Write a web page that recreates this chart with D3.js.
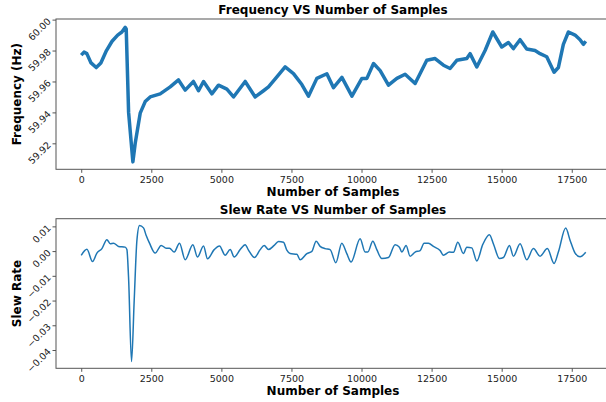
<!DOCTYPE html>
<html>
<head>
<meta charset="utf-8">
<script src="https://cdn.jsdelivr.net/npm/d3@7"></script>
<style>
  body { margin: 0; background: #fff; }
  svg text { font-family: "DejaVu Sans", sans-serif; }
</style>
</head>
<body>
<div class="mainCont"></div>
<script>
// frequency trace (sample index, Hz)
var freqSamples = [0, 100, 200, 350, 535, 700, 900, 1100, 1300, 1450, 1570, 1605, 1690, 1843, 1926,
    2104, 2282, 2460, 2817, 3174, 3470, 3709, 4004, 4184, 4363, 4660, 4897, 5196, 5433, 5849,
    6206, 6503, 6681, 6980, 7275, 7572, 7871, 8107, 8406, 8763, 9000, 9300, 9657, 10013, 10191,
    10428, 10665, 10961, 11260, 11555, 11912, 12328, 12625, 12922, 13160, 13398, 13755, 13873,
    14112, 14408, 14682, 15003, 15241, 15420, 15656, 15894, 16190, 16369, 16607, 16869, 17022,
    17200, 17380, 17618, 17796, 17914, 17999];
var freqValues = [59.977, 59.979, 59.978, 59.972, 59.969, 59.972, 59.980, 59.986, 59.990, 59.992,
    59.995, 59.994, 59.940, 59.908, 59.920, 59.9395, 59.947, 59.950, 59.952, 59.9565, 59.961,
    59.9544, 59.960, 59.954, 59.960, 59.952, 59.9576, 59.955, 59.950, 59.960, 59.950, 59.954,
    59.9565, 59.963, 59.9694, 59.9651, 59.958, 59.9505, 59.962, 59.965, 59.956, 59.9626, 59.9505,
    59.962, 59.962, 59.9716, 59.967, 59.9576, 59.962, 59.9647, 59.9587, 59.9737, 59.9748, 59.9705,
    59.9684, 59.9737, 59.9748, 59.978, 59.9694, 59.980, 59.992, 59.9823, 59.9852, 59.9813, 59.987,
    59.981, 59.980, 59.978, 59.976, 59.966, 59.969, 59.984, 59.992, 59.990, 59.987, 59.984, 59.986];

// slew rate trace
var slewSamples = [0, 203, 404, 559, 738, 916, 1034, 1153, 1331, 1569, 1629, 1688, 1795, 1890,
    1986, 2079, 2222, 2318, 2436, 2639, 2853, 3031, 3150, 3317, 3506, 3709, 3983, 4148, 4363,
    4505, 4743, 4933, 5136, 5314, 5457, 5671, 5849, 5967, 6181, 6384, 6527, 6681, 6884, 7037,
    7216, 7335, 7453, 7693, 7810, 8050, 8228, 8381, 8523, 8702, 8880, 9083, 9296, 9474, 9628,
    9950, 10128, 10224, 10402, 10545, 10723, 10961, 11198, 11352, 11436, 11590, 11733, 11912,
    12090, 12233, 12387, 12565, 12803, 12922, 13136, 13279, 13434, 13636, 13755, 13933, 14112,
    14326, 14563, 14706, 14920, 15063, 15277, 15420, 15656, 15894, 16131, 16369, 16630, 16869,
    17022, 17284, 17439, 17618, 17796, 17999];
var slewValues = [-0.0017, 0.0007, -0.0042, -0.0008, 0.0010, 0.0046, 0.0030, 0.0032, 0.0019,
    0.0016, 0.0006, -0.0105, -0.0447, -0.0199, 0.0043, 0.0104, 0.0094, 0.0063, 0.0032, -0.0008,
    0.0023, 0.0012, 0.0012, -0.0004, 0.0032, -0.0035, 0.0026, -0.0024, 0.0021, -0.0031, 0.0006,
    0.0021, -0.0017, 0.0006, -0.0024, 0.0006, 0.0026, 0.0004, -0.0026, 0.0006, 0.0023, 0.0006,
    0.0023, 0.0039, 0.0036, 0.0004, -0.0010, -0.0013, -0.0035, -0.0010, -0.0001, 0.0040, 0.0019,
    0.0010, 0.0006, -0.0047, 0.0032, -0.0010, -0.0044, 0.0050, -0.0004, -0.0004, 0.0040, 0.0006,
    -0.0030, -0.0026, 0.0026, 0.0016, -0.0004, 0.0023, -0.0021, -0.0004, 0.0002, 0.0032, 0.0032,
    0.0019, 0.0002, -0.0017, -0.0004, -0.0005, 0.0036, -0.0010, 0.0016, 0.0013, -0.0040, 0.0027,
    0.0066, 0.0029, -0.0030, -0.0026, 0.0023, -0.0021, 0.0030, -0.0035, 0.0010, -0.0021, 0.0010,
    -0.0050, -0.0004, 0.0093, 0.0044, -0.0008, -0.0023, -0.0005];

var xTicks = [0, 2500, 5000, 7500, 10000, 12500, 15000, 17500];
var freqTicks = [59.92, 59.94, 59.96, 59.98, 60.00];
var slewTicks = [-0.04, -0.03, -0.02, -0.01, 0.00, 0.01];

var width = 606, height = 402;
var blue = "#1f77b4";

var svg = d3.select(".mainCont").append("svg")
    .attr("width", width)
    .attr("height", height);

var x = d3.scaleLinear().domain([-900, 18900]).range([56, 611]);

function panel(opts) {
    var y = d3.scaleLinear().domain(opts.domain).range([opts.bottom, opts.top]);
    var g = svg.append("g");

    var pts = opts.samples.map(function(s, i) { return [s, opts.values[i]]; });
    var line = d3.line()
        .curve(opts.curve)
        .x(function(d) { return x(d[0]); })
        .y(function(d) { return y(d[1]); });

    g.append("path")
        .datum(pts)
        .attr("d", line)
        .attr("fill", "none")
        .attr("stroke", blue)
        .attr("stroke-width", opts.lw)
        .attr("stroke-linejoin", "round");

    // frame: top, left, bottom (right edge falls off the picture)
    g.append("rect")
        .attr("x", 56).attr("y", opts.top)
        .attr("width", 555).attr("height", opts.bottom - opts.top)
        .attr("fill", "none").attr("stroke", "#555").attr("stroke-width", 1);

    var xa = g.append("g")
        .attr("transform", "translate(0," + opts.bottom + ")")
        .call(d3.axisBottom(x).tickValues(xTicks).tickFormat(d3.format("d"))
            .tickSize(3.5).tickPadding(3));
    var ya = g.append("g")
        .attr("transform", "translate(56,0)")
        .call(d3.axisLeft(y).tickValues(opts.ticks).tickFormat(opts.fmt)
            .tickSize(3.5).tickPadding(3));

    [xa, ya].forEach(function(a) {
        a.select(".domain").remove();
        a.selectAll("line").attr("stroke", "#555");
        a.selectAll("text").attr("font-size", "9.5px").attr("fill", "#222")
            .attr("font-family", "DejaVu Sans, sans-serif");
    });
    ya.selectAll("text").attr("transform", "rotate(-45,-7,0)");

    g.append("text")
        .attr("x", 333).attr("y", opts.top - 5)
        .attr("text-anchor", "middle")
        .attr("font-size", "12px").attr("font-weight", "bold")
        .text(opts.title);
    g.append("text")
        .attr("x", 333).attr("y", opts.bottom + 27)
        .attr("text-anchor", "middle")
        .attr("font-size", "12px").attr("font-weight", "bold")
        .text("Number of Samples");
    g.append("text")
        .attr("transform", "translate(21," + (opts.top + opts.bottom) / 2 + ") rotate(-90)")
        .attr("text-anchor", "middle")
        .attr("font-size", "12px").attr("font-weight", "bold")
        .text(opts.ylabel);
}

panel({
    samples: freqSamples, values: freqValues,
    domain: [59.9032, 60.0004], top: 19, bottom: 169.3,
    ticks: freqTicks, fmt: d3.format(".2f"), lw: 3.5, curve: d3.curveLinear,
    title: "Frequency VS Number of Samples", ylabel: "Frequency (Hz)"
});

panel({
    samples: slewSamples, values: slewValues,
    domain: [-0.0474, 0.0131], top: 218.7, bottom: 368.3,
    ticks: slewTicks, fmt: function(d) { return d3.format(".2f")(d).replace("-", "\u2212"); },
    lw: 1.5, curve: d3.curveMonotoneX,
    title: "Slew Rate VS Number of Samples", ylabel: "Slew Rate"
});
</script>
</body>
</html>
